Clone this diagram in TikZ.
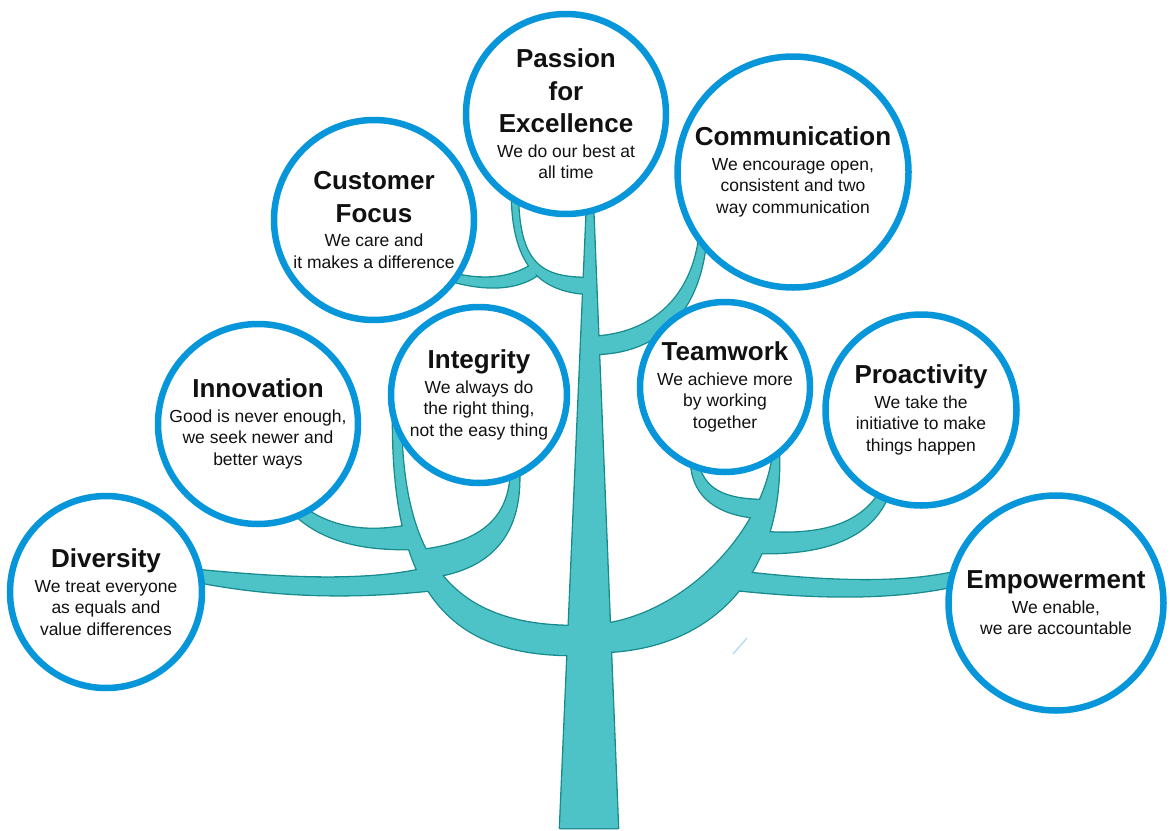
\documentclass[tikz,border=0pt]{standalone}
\usepackage{fontspec}
\setmainfont{Liberation Sans}
\definecolor{ringblue}{RGB}{8,150,218}
\definecolor{barkfill}{RGB}{78,195,199}
\definecolor{barkline}{RGB}{22,138,140}
\definecolor{textblack}{RGB}{17,17,17}
\newcommand\vtitle[1]{{\fontsize{26}{32}\selectfont\bfseries #1}}
\newcommand\treeparts[1]{%
	\path[#1] (587,205) -- (593,205) -- (618,828) -- (560,828) -- cycle;
	\path[#1] (512,200) .. controls (514,265) and (540,292) .. (590,294) -- (590,278) .. controls (545,278) and (520,268) .. (518,200) -- cycle;
	\path[#1] (455,274) .. controls (490,282) and (515,276) .. (533,264) -- (536,276) .. controls (515,290) and (485,290) .. (455,282) -- cycle;
	\path[#1] (590,337) .. controls (650,335) and (690,300) .. (699,240) -- (706,240) .. controls (700,310) and (660,355) .. (590,354) -- cycle;
	\path[#1] (393,415) .. controls (392,580) and (440,655) .. (572,655) -- (572,626) .. controls (460,625) and (401,570) .. (401,415) -- cycle;
	\path[#1] (300,505) .. controls (330,528) and (365,533) .. (405,526) -- (410,549) .. controls (360,550) and (320,540) .. (292,512) -- cycle;
	\path[#1] (198,570) .. controls (280,578) and (360,582) .. (418,570) -- (434,590) .. controls (360,598) and (280,598) .. (198,582) -- cycle;
	\path[#1] (412,551) .. controls (480,545) and (510,520) .. (511,470) -- (519,470) .. controls (522,530) and (495,568) .. (432,577) -- cycle;
	\path[#1] (605,624) .. controls (685,612) and (762,535) .. (773,455) -- (779,455) .. controls (782,575) and (712,648) .. (605,652) -- cycle;
	\path[#1] (765,500) .. controls (725,500) and (703,490) .. (698,462) -- (691,462) .. controls (693,505) and (730,516) .. (760,518) -- cycle;
	\path[#1] (764,532) .. controls (820,536) and (860,525) .. (880,492) -- (888,496) .. controls (870,540) and (820,555) .. (755,553) -- cycle;
	\path[#1] (742,572) .. controls (830,582) and (900,584) .. (955,572) -- (955,586) .. controls (900,598) and (830,600) .. (736,590) -- cycle;
}

\begin{document}
\begin{tikzpicture}[x=1pt, y=-1pt,
		core value/.style={circle, draw=ringblue, line width=6.5pt, fill=white, inner sep=0pt, align=center, text=textblack, font=\fontsize{17.5}{21.5}\selectfont},
		bark edge/.style={draw=barkline, line width=2.6pt, line join=round},
		bark/.style={fill=barkfill}]
	\path[use as bounding box, fill=white] (0,0) rectangle (1170,830);
	\treeparts{bark edge}
	\treeparts{bark}
	\draw[ringblue!35, line width=1.2pt] (733,654) -- (747,638);
	\path (566,114) node[core value, minimum size=200pt] (passion) {\vtitle{Passion}\\[11pt]\vtitle{for}\\[11pt]\vtitle{Excellence}\\[3pt]We do our best at\\all time};
	\path (374,220) node[core value, minimum size=200pt] (customer) {\vtitle{Customer}\\[11pt]\vtitle{Focus}\\[3pt]We care and\\it makes a difference};
	\path (793,172) node[core value, minimum size=231pt] (communication) {\vtitle{Communication}\\[3pt]We encourage open,\\consistent and two\\way communication};
	\path (258,424) node[core value, minimum size=200pt] (innovation) {\vtitle{Innovation}\\[3pt]Good is never enough,\\we seek newer and\\better ways};
	\path (479,395) node[core value, minimum size=176pt] (integrity) {\vtitle{Integrity}\\[3pt]We always do\\the right thing,\\not the easy thing};
	\path (725,387) node[core value, minimum size=170pt] (teamwork) {\vtitle{Teamwork}\\[3pt]We achieve more\\by working\\together};
	\path (921,410) node[core value, minimum size=191pt] (proactivity) {\vtitle{Proactivity}\\[3pt]We take the\\initiative to make\\things happen};
	\path (106,592) node[core value, minimum size=192pt] (diversity) {\vtitle{Diversity}\\[3pt]We treat everyone\\as equals and\\value differences};
	\path (1056,603) node[core value, minimum size=215pt] (empowerment) {\vtitle{Empowerment}\\[3pt]We enable,\\we are accountable};
\end{tikzpicture}
\end{document}
